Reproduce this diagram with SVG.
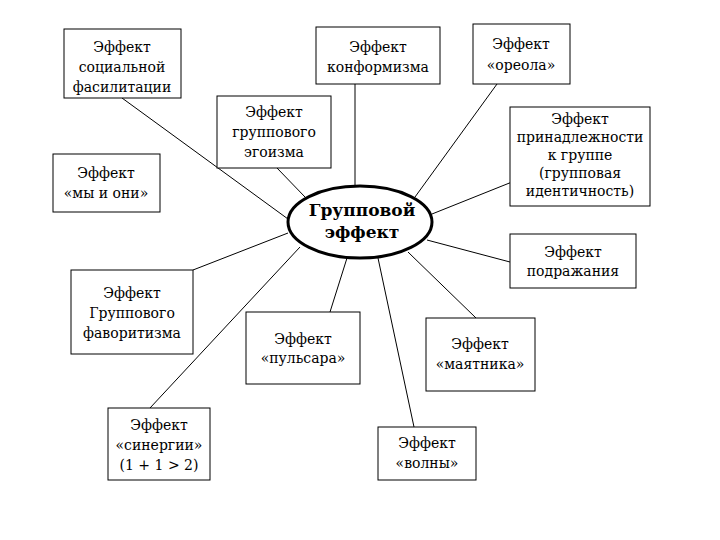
<svg xmlns="http://www.w3.org/2000/svg" width="720" height="540" viewBox="0 0 720 540">
<style>
rect{fill:#fff;stroke:#000;stroke-width:1}
rect.bg{stroke:none}
line{stroke:#000;stroke-width:1}
text{font-family:"DejaVu Serif","Liberation Serif",serif;font-size:14px;text-anchor:middle;fill:#000}
.b{font-weight:bold;font-size:17px}
</style>
<rect class="bg" width="720" height="540"/>
<g id="connectors">
<line x1="122" y1="98" x2="288" y2="219"/>
<line x1="355" y1="84" x2="355" y2="186"/>
<line x1="497" y1="84" x2="415" y2="197"/>
<line x1="277" y1="168" x2="305" y2="197"/>
<line x1="517" y1="180" x2="432" y2="214"/>
<line x1="427" y1="240" x2="510" y2="262"/>
<line x1="288" y1="233" x2="193" y2="270"/>
<line x1="300" y1="247" x2="150" y2="408"/>
<line x1="347" y1="258" x2="330" y2="312"/>
<line x1="378" y1="258" x2="414" y2="427"/>
<line x1="408" y1="252" x2="476" y2="318"/>
</g>
<g id="n1"><rect x="64" y="29" width="117" height="69"/><text x="122" y="52">Эффект</text><text x="122" y="72">социальной</text><text x="122" y="92">фасилитации</text></g>
<g id="n2"><rect x="316" y="27" width="124" height="57"/><text x="378" y="52">Эффект</text><text x="378" y="72">конформизма</text></g>
<g id="n3"><rect x="473" y="24" width="97" height="60"/><text x="521" y="49">Эффект</text><text x="521" y="70">«ореола»</text></g>
<g id="n4"><rect x="217" y="96" width="114" height="72"/><text x="274" y="117">Эффект</text><text x="274" y="137">группового</text><text x="274" y="157">эгоизма</text></g>
<g id="n5"><rect x="510" y="107" width="140" height="99"/><text x="580" y="124">Эффект</text><text x="580" y="142">принадлежности</text><text x="580" y="160">к группе</text><text x="580" y="178">(групповая</text><text x="580" y="196">идентичность)</text></g>
<g id="n6"><rect x="53" y="154" width="107" height="58"/><text x="106" y="178">Эффект</text><text x="106" y="198">«мы и они»</text></g>
<g id="center"><ellipse cx="360" cy="222" rx="72" ry="36" fill="#fff" stroke="#000" stroke-width="3"/><text class="b" x="362" y="216">Групповой</text><text class="b" x="362" y="238">эффект</text></g>
<g id="n7"><rect x="510" y="234" width="126" height="54"/><text x="573" y="257">Эффект</text><text x="573" y="276">подражания</text></g>
<g id="n8"><rect x="71" y="270" width="122" height="84"/><text x="132" y="298">Эффект</text><text x="132" y="318">Группового</text><text x="132" y="338">фаворитизма</text></g>
<g id="n9"><rect x="246" y="312" width="114" height="72"/><text x="303" y="344">Эффект</text><text x="303" y="363">«пульсара»</text></g>
<g id="n10"><rect x="426" y="318" width="109" height="73"/><text x="480" y="349">Эффект</text><text x="480" y="369">«маятника»</text></g>
<g id="n11"><rect x="108" y="408" width="102" height="72"/><text x="159" y="430">Эффект</text><text x="159" y="450">«синергии»</text><text x="159" y="470">(1 + 1 &gt; 2)</text></g>
<g id="n12"><rect x="378" y="427" width="98" height="53"/><text x="427" y="448">Эффект</text><text x="427" y="468">«волны»</text></g>
</svg>
